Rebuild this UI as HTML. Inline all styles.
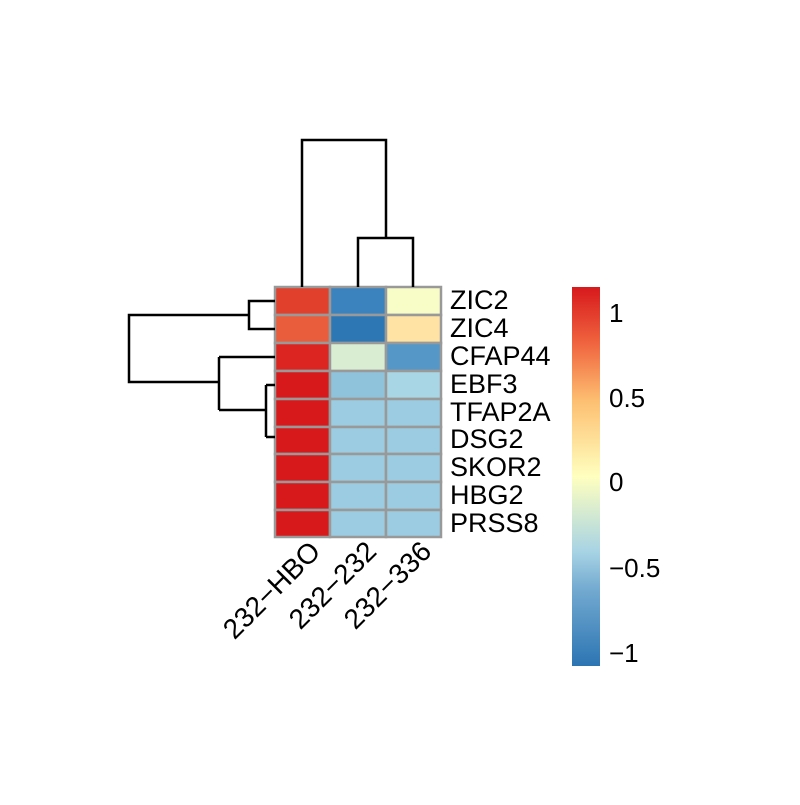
<!DOCTYPE html>
<html><head><style>body{margin:0;background:#fff}</style></head><body>
<svg width="800" height="800" xmlns="http://www.w3.org/2000/svg" font-family="Liberation Sans, Arial, sans-serif">
<defs><linearGradient id="g" x1="0" y1="1" x2="0" y2="0">
<stop offset="0" stop-color="#2c75b3"/><stop offset="0.2" stop-color="#72a9d0"/><stop offset="0.3" stop-color="#a7d3e4"/><stop offset="0.5" stop-color="#ffffbf"/><stop offset="0.7" stop-color="#fdbf71"/><stop offset="0.85" stop-color="#f0653f"/><stop offset="1" stop-color="#d7191c"/>
</linearGradient></defs>
<g stroke="#999" stroke-width="2.5">
<rect x="275" y="287" width="55" height="28" fill="#e0402c"/><rect x="330" y="287" width="56" height="28" fill="#3a83be"/><rect x="386" y="287" width="55" height="28" fill="#f8fcc7"/>
<rect x="275" y="315" width="55" height="28" fill="#e95c3c"/><rect x="330" y="315" width="56" height="28" fill="#2c77b4"/><rect x="386" y="315" width="55" height="28" fill="#fee3a4"/>
<rect x="275" y="343" width="55" height="28" fill="#dc2420"/><rect x="330" y="343" width="56" height="28" fill="#d9edd3"/><rect x="386" y="343" width="55" height="28" fill="#5598c7"/>
<rect x="275" y="371" width="55" height="28" fill="#d7191c"/><rect x="330" y="371" width="56" height="28" fill="#8fc3dc"/><rect x="386" y="371" width="55" height="28" fill="#a9d6e5"/>
<rect x="275" y="399" width="55" height="28" fill="#d7191c"/><rect x="330" y="399" width="56" height="28" fill="#9bcce2"/><rect x="386" y="399" width="55" height="28" fill="#9bcce2"/>
<rect x="275" y="427" width="55" height="27" fill="#d7191c"/><rect x="330" y="427" width="56" height="27" fill="#9bcce2"/><rect x="386" y="427" width="55" height="27" fill="#9bcce2"/>
<rect x="275" y="454" width="55" height="28" fill="#d7191c"/><rect x="330" y="454" width="56" height="28" fill="#9bcce2"/><rect x="386" y="454" width="55" height="28" fill="#9bcce2"/>
<rect x="275" y="482" width="55" height="28" fill="#d7191c"/><rect x="330" y="482" width="56" height="28" fill="#9bcce2"/><rect x="386" y="482" width="55" height="28" fill="#9bcce2"/>
<rect x="275" y="510" width="55" height="27" fill="#d7191c"/><rect x="330" y="510" width="56" height="27" fill="#9bcce2"/><rect x="386" y="510" width="55" height="27" fill="#9bcce2"/>
</g>
<g stroke="#000" stroke-width="2.5" fill="none">
<path d="M302 287V140H386V238M358 287V238H413V287"/>
<path d="M275 301H249V329H275M249 315H129V382H219M219 357V410M219 357H275M219 410H266M266 385V437M266 385H275M266 437H275"/>
</g>
<g font-size="27" fill="#000">
<text x="450" y="309">ZIC2</text><text x="450" y="337">ZIC4</text><text x="450" y="365">CFAP44</text><text x="450" y="393">EBF3</text><text x="450" y="421">TFAP2A</text><text x="450" y="448">DSG2</text><text x="450" y="476">SKOR2</text><text x="450" y="504">HBG2</text><text x="450" y="532">PRSS8</text>
</g>
<g font-size="28" fill="#000">
<text transform="translate(322,553) rotate(-45)" text-anchor="end">232−HBO</text>
<text transform="translate(378,553) rotate(-45)" text-anchor="end">232−232</text>
<text transform="translate(433,553) rotate(-45)" text-anchor="end">232−336</text>
</g>
<rect x="572" y="287" width="28" height="379" fill="url(#g)"/>
<g font-size="26" fill="#000">
<text x="609" y="322">1</text><text x="609" y="407">0.5</text><text x="609" y="491">0</text><text x="609" y="577">−0.5</text><text x="609" y="662">−1</text>
</g>
</svg>
</body></html>
